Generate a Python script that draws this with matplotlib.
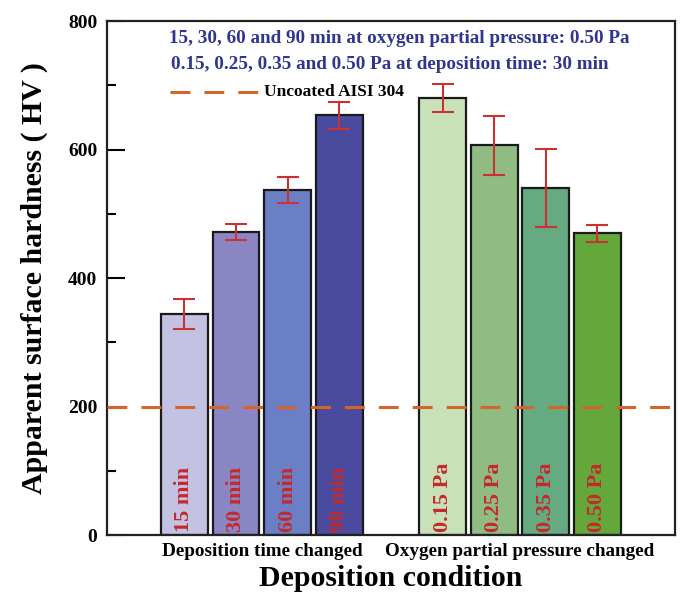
import numpy as np
import matplotlib.pyplot as plt
from matplotlib.ticker import MultipleLocator

plt.rcParams['font.family'] = ['Liberation Serif', 'DejaVu Serif']
plt.rcParams['font.weight'] = 'bold'

# data
time_labels = ['15 min', '30 min', '60 min', '90 min']
time_hv = [344, 472, 537, 654]
time_err = [23, 13, 20, 21]
time_colors = ['#c4c2e2', '#8a86c4', '#6a7fc6', '#4a4b9e']

press_labels = ['0.15 Pa', '0.25 Pa', '0.35 Pa', '0.50 Pa']
press_hv = [680, 607, 540, 470]
press_err = [22, 46, 61, 13]
press_colors = ['#c9e1b8', '#90bb83', '#65aa80', '#64a83b']

group_labels = ['Deposition time changed', 'Oxygen partial pressure changed']
uncoated_hv = 200

dash = (0, (6.5, 4.6))
orange = '#d4652a'

fig = plt.figure(figsize=[6.81, 5.96], dpi=100)
ax = fig.add_axes([0.157, 0.1023, 0.834, 0.862])

x_time = np.arange(len(time_hv)) + 1.5
x_press = np.arange(len(press_hv)) + 6.5
xs = np.concatenate([x_time, x_press])
hv = time_hv + press_hv
err = time_err + press_err
colors = time_colors + press_colors
labels = time_labels + press_labels

ax.bar(xs, hv, width=0.91, color=colors, edgecolor='#1a1a1a', linewidth=1.6, zorder=2)
ax.errorbar(xs, hv, yerr=err, fmt='none', ecolor='#cc3030', elinewidth=1.5,
            capsize=8, capthick=1.5, zorder=4)

# uncoated reference line
ax.axhline(uncoated_hv, color=orange, lw=2.2, ls=dash, zorder=3)

# labels inside bars
for x, lab in zip(xs, labels):
    ax.text(x, 4, lab, rotation=90, ha='center', va='bottom', color='#c6282b',
            fontsize=16, fontweight='bold', zorder=5)

# annotations
ax.text(1.2, 773, '15, 30, 60 and 90 min at oxygen partial pressure: 0.50 Pa',
        color='#2f3590', fontsize=13.8, va='center')
ax.text(1.25, 733, '0.15, 0.25, 0.35 and 0.50 Pa at deposition time: 30 min',
        color='#2f3590', fontsize=13.8, va='center')
ax.plot([1.22, 2.92], [690, 690], color=orange, lw=2.2, ls=dash)
ax.text(3.05, 690, 'Uncoated AISI 304', color='black', fontsize=12.5, va='center')

ax.set_xlim(0, 11)
ax.set_ylim(0, 800)
ax.set_xticks([3.0, 8.0])
ax.set_xticklabels(group_labels, fontsize=13.8)
ax.tick_params(axis='x', length=0, pad=6)
ax.yaxis.set_major_locator(MultipleLocator(200))
ax.yaxis.set_minor_locator(MultipleLocator(100))
ax.tick_params(axis='y', which='major', direction='in', length=13, width=1.5,
               labelsize=14, pad=7)
ax.tick_params(axis='y', which='minor', direction='in', length=6.5, width=1.5)
for s in ax.spines.values():
    s.set_linewidth(1.6)
    s.set_color('#222222')

ax.set_xlabel('Deposition condition', fontsize=21.5, fontweight='bold', labelpad=3)
ax.set_ylabel('Apparent surface hardness ( HV )', fontsize=21.5, fontweight='bold', labelpad=14)

fig.savefig('out.png', dpi=100)
